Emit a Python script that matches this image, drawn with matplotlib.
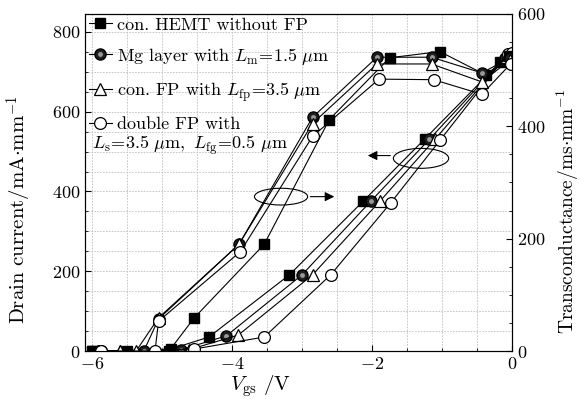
import numpy as np
import matplotlib
matplotlib.use("Agg")
import matplotlib.pyplot as plt
from matplotlib.patches import Ellipse

plt.rcParams['font.family'] = ['cmr10', 'DejaVu Serif']
plt.rcParams['mathtext.fontset'] = 'cm'
plt.rcParams['axes.formatter.use_mathtext'] = True
plt.rcParams['axes.unicode_minus'] = True

# drain current, mA/mm (left axis)
vd_hemt = [-6.0, -5.5, -4.87, -4.33, -3.18, -2.13, -1.25, -0.17, 0.0]
id_hemt = [0, 0, 5, 35, 191, 375, 531, 724, 745]
vd_mg = [-5.9, -4.73, -4.08, -3.0, -2.02, -1.18, -0.1, 0.0]
id_mg = [0, 3, 38, 191, 375, 531, 735, 745]
vd_fp = [-5.6, -4.62, -3.91, -2.85, -1.89, -1.1, -0.08, 0.0]
id_fp = [0, 3, 40, 191, 375, 531, 738, 745]
vd_dfp = [-5.87, -4.54, -3.54, -2.59, -1.73, -1.03, -0.06, 0.0]
id_dfp = [0, 5, 35, 191, 372, 528, 745, 748]

# transconductance, ms/mm (right axis)
vg_hemt = [-6.0, -4.9, -4.54, -3.54, -2.61, -1.75, -1.03, -0.37, -0.05]
gm_hemt = [0, 0, 59, 190, 412, 522, 533, 491, 525]
vg_mg = [-5.9, -5.26, -5.05, -3.9, -2.85, -1.93, -1.15, -0.43, -0.03]
gm_mg = [0, 0, 57, 190, 416, 523, 523, 495, 522]
vg_fp = [-5.6, -5.37, -5.05, -3.9, -2.85, -1.93, -1.15, -0.43, -0.03]
gm_fp = [0, 0, 59, 190, 405, 511, 511, 479, 518]
vg_dfp = [-5.87, -5.1, -5.05, -3.88, -2.85, -1.9, -1.12, -0.43, -0.02]
gm_dfp = [0, 0, 53, 177, 382, 484, 483, 457, 511]

labels = ['con. HEMT without FP',
          r'Mg layer with $L_{\mathrm{m}}\!=\!1.5\ \mu\mathrm{m}$',
          r'con. FP with $L_{\mathrm{fp}}\!=\!3.5\ \mu\mathrm{m}$',
          'double FP with']
label2 = r'$L_{\mathrm{s}}\!=\!3.5\ \mu\mathrm{m},\ L_{\mathrm{fg}}\!=\!0.5\ \mu\mathrm{m}$'

fig = plt.figure(figsize=(5.8, 3.99), dpi=100)
ax = fig.add_axes([0.1466, 0.1203, 0.7362, 0.8447])
ax2 = ax.twinx()

lw = 0.8
sq = dict(marker='s', ms=7.5, mfc='k', mec='k', color='k', lw=lw)
sp = dict(marker='o', ms=8, mfc='0.12', mec='k', color='k', lw=lw)
sph = dict(marker='o', ms=3.5, mfc='0.6', mec='none', ls='none')
tr = dict(marker='^', ms=9, mfc='w', mec='k', mew=0.9, color='k', lw=lw)
ci = dict(marker='o', ms=8.5, mfc='w', mec='k', mew=0.9, color='k', lw=lw)

ax.plot(vd_hemt, id_hemt, **sq)
ax.plot(vd_mg, id_mg, **sp)
ax.plot(vd_mg, id_mg, **sph)
ax.plot(vd_fp, id_fp, **tr)
ax.plot(vd_dfp, id_dfp, **ci)

h1, = ax2.plot(vg_hemt, gm_hemt, **sq)
h2, = ax2.plot(vg_mg, gm_mg, **sp)
h2b, = ax2.plot(vg_mg, gm_mg, **sph)
h3, = ax2.plot(vg_fp, gm_fp, **tr)
h4, = ax2.plot(vg_dfp, gm_dfp, **ci)

ax.set_xlim(-6.1, 0)
ax.set_ylim(0, 845)
ax2.set_ylim(0, 600)

ax.set_xticks([-6, -4, -2, 0])
ax.set_xticks(np.arange(-6, 0.01, 0.5), minor=True)
ax.set_yticks([0, 200, 400, 600, 800])
ax.set_yticks(np.arange(0, 845, 50), minor=True)
ax2.set_yticks([0, 200, 400, 600])
ax2.set_yticks(np.arange(0, 601, 50), minor=True)

for a in (ax, ax2):
    a.tick_params(which='both', direction='in', labelsize=13)
    a.tick_params(which='major', length=4)
    a.tick_params(which='minor', length=2.5)
ax.tick_params(which='both', top=False)

ax.grid(True, which='both', ls=(0, (2, 1.5)), color='0.75', lw=0.6)
ax.set_axisbelow(True)

ax.set_xlabel(r'$V_{\mathrm{gs}}$ /V', fontsize=15)
ax.xaxis.set_label_coords(0.41, -0.065)
ax.set_ylabel(r'Drain current/mA$\cdot$mm$^{-1}$', fontsize=15)
ax.yaxis.set_label_coords(-0.12, 0.42)
ax2.set_ylabel(r'Transconductance/ms$\cdot$mm$^{-1}$', fontsize=14)
ax2.yaxis.set_label_coords(1.10, 0.415)

ax.add_patch(Ellipse((-3.3, 387), 0.76, 42, fill=False, ec='k', lw=0.8))
ax.annotate('', xy=(-2.5, 387), xytext=(-2.92, 387),
            arrowprops=dict(arrowstyle='-|>', color='k', lw=0.8, mutation_scale=14))
ax.add_patch(Ellipse((-1.3, 483), 0.79, 50, fill=False, ec='k', lw=0.8))
ax.annotate('', xy=(-2.1, 490), xytext=(-1.7, 490),
            arrowprops=dict(arrowstyle='-|>', color='k', lw=0.8, mutation_scale=14))

leg = ax2.legend([h1, (h2, h2b), h3, h4], labels, loc='upper left',
                 bbox_to_anchor=(-0.017, 1.023), frameon=False, fontsize=13,
                 handlelength=1.3, handletextpad=0.3, labelspacing=0.72,
                 borderaxespad=0.2)
ax2.text(0.016, 0.60, label2, transform=ax.transAxes, fontsize=13,
         ha='left', va='baseline')

fig.savefig('out.png', dpi=100)
